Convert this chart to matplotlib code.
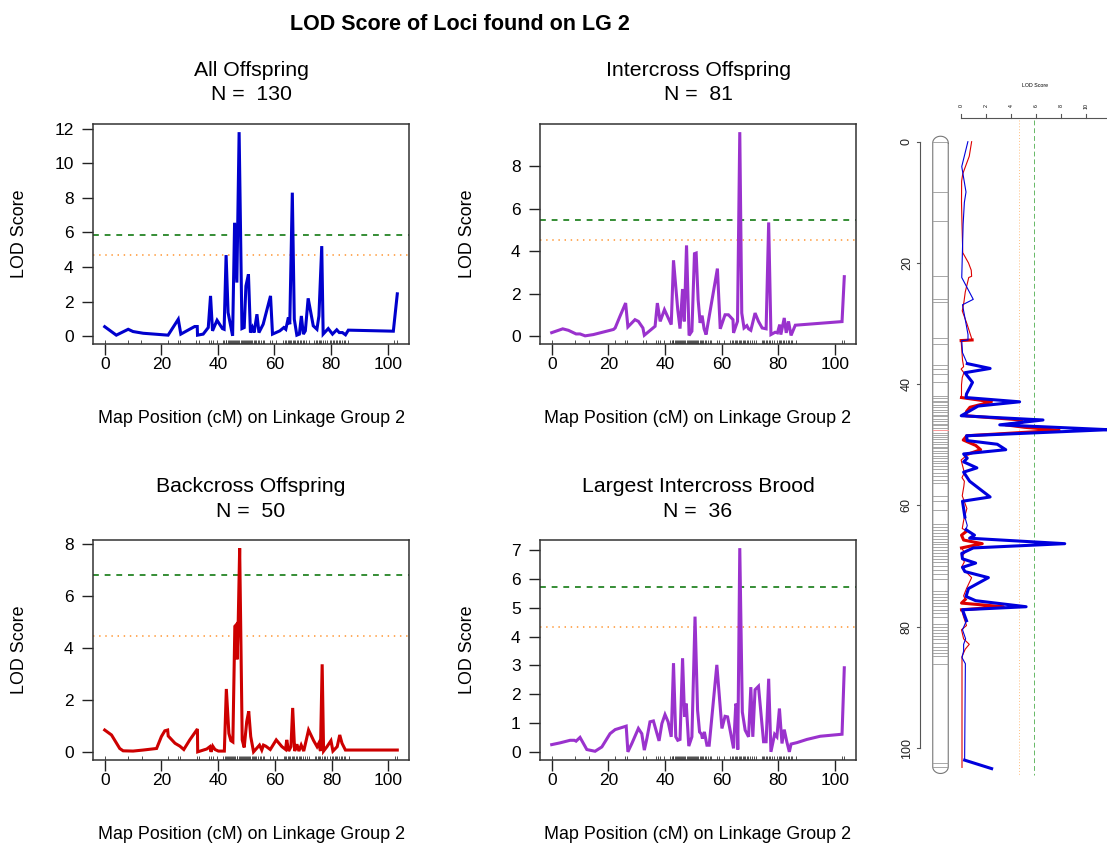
import numpy as np
import matplotlib
matplotlib.use("Agg")
import matplotlib.pyplot as plt

plt.rcParams['font.family'] = ['Liberation Sans', 'DejaVu Sans']

# ---- data: (map position cM, LOD) ----
all_pos = [0, 4.1, 8.3, 10, 13.6, 22.4, 26, 26.9, 30, 31.8, 32.7, 32.8, 34.8, 36.6, 37.4, 38.1,
           39.7, 41.6, 42.2, 42.9, 43.6, 45.2, 45.9, 46.7, 47.5, 48.5, 49.3, 49.9, 50.8, 51.5,
           52.2, 52.8, 53.8, 54.5, 56, 58.6, 59.3, 61.9, 63.3, 64, 64.9, 65.4, 66.3, 67, 67.9,
           68.8, 69.5, 70.2, 70.9, 71.9, 73.7, 75, 75.7, 76.7, 77.2, 79, 80.5, 82, 82.9, 84,
           85.1, 86.1, 102, 103.4]
all_lod = [0.55, 0.06, 0.4, 0.27, 0.17, 0.06, 0.98, 0.12, 0.4, 0.56, 0.56, 0.06, 0.12, 0.5, 2.33, 0.31,
           0.92, 0.44, 0.4, 4.69, 1.37, 0.02, 6.56, 3.1, 11.8, 0.44, 0.5, 2.9, 3.58, 0.21,
           0.5, 0.21, 1.27, 0.21, 0.69, 2.33, 0.12, 0.31, 0.5, 0.4, 1.08, 0.69, 8.3, 0.98, 0.06,
           0.12, 1.17, 0.12, 0.31, 2.19, 0.6, 0.4, 1.17, 5.21, 0.12, 0.44, 0.12, 0.37, 0.21, 0.21,
           0.08, 0.35, 0.29, 2.45]

inter_pos = [0, 3.9, 5.9, 8.6, 10, 11.8, 14.7, 21.8, 22.4, 24.1, 26.1, 26.9, 29.4, 30.6, 32.2, 32.7,
             36.5, 37.3, 38.3, 39.8, 42.2, 43, 44.5, 45.3, 46.2, 46.8, 47.6, 48.5, 49.5, 50.4,
             51, 51.7, 52.4, 53.1, 53.8, 54.5, 58.5, 59.5, 61.2, 62.4, 64, 64.2, 65.6, 66.4,
             67.1, 67.9, 68.9, 69.5, 70.3, 71.8, 73, 74.3, 75.7, 76.6, 77.4, 78.9, 79.7, 80.5,
             80.9, 82.1, 82.8, 83.6, 84.5, 86, 102.5, 103.3]
inter_lod = [0.18, 0.36, 0.29, 0.12, 0.12, 0.03, 0.09, 0.33, 0.4, 0.95, 1.57, 0.45, 0.79, 0.71, 0.4, 0.06,
             0.48, 1.57, 0.71, 1.26, 0.56, 3.58, 1.26, 0.37, 2.23, 0.71, 4.28, 0.05, 0.25, 3.89,
             3.92, 1.72, 0.64, 0.98, 0.36, 0.09, 3.19, 0.36, 1.02, 1.02, 0.79, 0.17, 0.71, 9.6,
             1.1, 0.4, 0.51, 0.36, 0.29, 1.1, 0.71, 0.4, 0.36, 5.36, 0.09, 0.2, 0.17, 0.56,
             0.09, 0.87, 0.17, 0.71, 0.05, 0.53, 0.7, 2.81]

back_pos = [0, 2.4, 5.3, 6.5, 10, 13.6, 18.3, 20, 21.2, 22.2, 22.4, 24.8, 26.5, 27.9, 30, 32.7, 32.8,
            36, 37.1, 37.5, 38.1, 38.9, 40.1, 42.2, 42.9, 43.8, 44.5, 45.2, 45.9, 46.3, 46.7,
            47.1, 47.6, 48.5, 49.2, 50.1, 50.8, 51.5, 52.5, 54.6, 55.4, 56, 56.8, 58.4, 60.5,
            62.5, 63.8, 64.2, 64.9, 65.7, 66.3, 67, 67.8, 68.5, 69.3, 70.2, 71.9, 73.7, 74.9,
            75.5, 76.1, 76.7, 77.2, 78.4, 79.8, 80.5, 82, 82.9, 83.7, 84.9, 103.2]
back_lod = [0.85, 0.66, 0.14, 0.05, 0.04, 0.08, 0.14, 0.6, 0.82, 0.85, 0.62, 0.34, 0.23, 0.1, 0.47, 0.89, 0.01,
            0.12, 0.21, 0.01, 0.23, 0.1, 0.04, 0.04, 2.43, 0.72, 0.44, 0.39, 4.84, 4.89, 3.57,
            5.06, 7.85, 0.47, 0.18, 1.18, 1.57, 0.6, 0.01, 0.27, 0.08, 0.27, 0.23, 0.1, 0.47,
            0.21, 0.1, 0.47, 0.04, 0.21, 1.7, 0.04, 0.3, 0.04, 0.27, 0.04, 0.85, 0.44, 0.21,
            0.34, 0.04, 3.38, 0.04, 0.21, 0.44, 0.04, 0.21, 0.66, 0.34, 0.08, 0.08]

brood_pos = [0, 2.9, 6.5, 8, 8.6, 10, 11.2, 12.4, 15.3, 17.7, 20.6, 22.4, 26.3, 26.9, 28.3, 30.6,
             31.8, 32.7, 33.6, 34.7, 35.9, 37.9, 38.9, 40, 41.1, 42.2, 43, 43.8, 44.5, 45.3,
             46.2, 46.9, 47.5, 48.4, 49.5, 50.6, 51.5, 52.2, 52.9, 53.2, 53.9, 54.8, 55.6, 58.3,
             60.1, 61.2, 62.1, 64.2, 65, 65.4, 65.7, 66.4, 67.3, 68.3, 69.5, 70.3, 71, 71.8,
             73, 74.8, 75.7, 76.6, 77.4, 78.7, 79.5, 80.4, 81.3, 82.1, 83, 83.9, 84.5, 86.6,
             90.1, 94.8, 102.5, 103.3]
brood_lod = [0.26, 0.32, 0.41, 0.41, 0.38, 0.51, 0.3, 0.09, 0.03, 0.18, 0.64, 0.78, 0.9, 0.01, 0.3, 0.82,
             0.64, 0.07, 0.47, 1.05, 1.08, 0.39, 0.99, 1.3, 1.05, 0.53, 3.08, 0.53, 0.41, 0.44,
             3.25, 1.22, 1.68, 0.21, 0.53, 4.69, 1.45, 0.7, 0.62, 0.47, 0.7, 0.24, 0.24, 3.02,
             0.82, 1.24, 1.22, 0.13, 1.68, 1.56, 0.09, 7.06, 1.39, 0.76, 0.53, 2.25, 0.53, 2.16,
             2.28, 0.36, 0.36, 2.54, 0.01, 0.62, 0.53, 1.51, 0.3, 0.78, 0.36, 0.01, 0.28, 0.33,
             0.44, 0.55, 0.62, 2.92]

# marker positions on LG 2 (rug / chromosome bars)
markers = [0, 8.3, 13, 22.2, 25.9, 26.5, 32.4, 33.3, 36.8, 37.5, 38.3, 39.7,
           41.9, 42.3, 42.7, 43.0, 43.4, 43.8, 44.2, 44.6, 45.0, 45.3, 45.7, 46.1, 46.5, 46.8,
           47.2, 47.6, 48.0, 48.4, 48.7, 49.1, 49.5, 49.9, 50.3, 50.6, 51.0, 51.4, 51.8, 52.2,
           52.6, 53.0, 53.5, 54.0, 54.6, 55.2, 55.8, 56.3, 58.4, 59.2, 60.7,
           63.1, 63.6, 64.1, 64.6, 65.0, 65.5, 66.0, 66.4, 66.9, 67.4, 67.9, 68.4, 68.9, 69.4,
           70.0, 70.6, 71.3, 72.1, 74.1, 74.6, 75.1, 75.6, 76.1, 76.6, 77.2, 77.8, 78.4,
           79.6, 80.1, 80.6, 81.1, 81.6, 82.1, 82.7, 83.3, 83.8, 84.4, 84.9, 86.1, 102.4, 103.2]
peak_marker = 47.6

titles = ['All Offspring', 'Intercross Offspring', 'Backcross Offspring', 'Largest Intercross Brood']
n_off = [130, 81, 50, 36]
sig_thr = [5.87, 5.47, 6.8, 5.72]    # green dashed
sug_thr = [4.67, 4.54, 4.45, 4.34]   # orange dotted
colors = ['#0000CD', '#9A32CD', '#CD0000', '#9A32CD']
yticks = [range(0, 13, 2), range(0, 9, 2), range(0, 9, 2), range(0, 8, 1)]

series = [(all_pos, all_lod), (inter_pos, inter_lod), (back_pos, back_lod), (brood_pos, brood_lod)]

W, H = 1107, 846
fig = plt.figure(figsize=(W / 100, H / 100), dpi=100)

# axes boxes in pixels: left, top, right, bottom
boxes = [(93, 124, 409, 344), (540, 124, 856, 344), (93, 540, 409, 760), (540, 540, 856, 760)]

green = '#137A13'
orange = '#FFA54F'

for i, (l, t, r, b) in enumerate(boxes):
    ax = fig.add_axes([l / W, (H - b) / H, (r - l) / W, (b - t) / H])
    pos, lod = series[i]
    ax.plot(pos, lod, color=colors[i], lw=2.2, solid_joinstyle='miter', zorder=3)
    ax.axhline(sig_thr[i], color=green, lw=1.2, ls=(0, (3.5, 3.5)), zorder=2)
    ax.axhline(sug_thr[i], color=orange, lw=1.3, ls=(0, (0.8, 2.6)), zorder=2)
    ax.vlines(markers, 0, 0.018, transform=ax.get_xaxis_transform(), color='#333333', lw=0.6)

    x0, x1 = min(pos), max(pos)
    y0, y1 = min(lod), max(lod)
    ax.set_xlim(x0 - 0.04 * (x1 - x0), x1 + 0.04 * (x1 - x0))
    ax.set_ylim(y0 - 0.04 * (y1 - y0), y1 + 0.04 * (y1 - y0))
    ax.set_xticks(range(0, 101, 20))
    ax.set_yticks(list(yticks[i]))
    ax.tick_params(direction='out', length=8, width=1, labelsize=12.5, color='#222222')
    ax.tick_params(axis='x', pad=1.5)
    ax.tick_params(axis='y', pad=6)
    for s in ax.spines.values():
        s.set_linewidth(1.1)
        s.set_color('#333333')

    hpx = b - t
    wpx = r - l
    ax.text(0.5, 1 + 54 / hpx, titles[i], transform=ax.transAxes, ha='center', va='center', fontsize=15.3)
    ax.text(0.5, 1 + 29 / hpx, f'N =  {n_off[i]}', transform=ax.transAxes, ha='center', va='center', fontsize=15.3)
    ax.text(0.5, -74 / hpx, 'Map Position (cM) on Linkage Group 2', transform=ax.transAxes,
            ha='center', va='center', fontsize=12.9)
    ax.text(-73 / wpx, 0.5, 'LOD Score', transform=ax.transAxes, rotation=90,
            ha='center', va='center', fontsize=12.9)

fig.text(460 / W, 1 - 25 / H, 'LOD Score of Loci found on LG 2', ha='center', va='center',
         fontsize=15.5, fontweight='bold')

# ---- right panel: chromosome with LOD profiles (rotated) ----
ax_r = fig.add_axes([880 / W, 0, (W - 880) / W, 1])
ax_r.axis('off')
lod0_px, lod_px = 961, 12.5        # pixel of LOD 0, pixels per LOD unit
cm0_px, cm_px = 141.7, 6.063        # pixel of 0 cM, pixels per cM
ax_r.set_xlim((880 - lod0_px) / lod_px, (W - lod0_px) / lod_px)
ax_r.set_ylim((H - cm0_px) / cm_px, (0 - cm0_px) / cm_px)

# cM axis
ax_x = -3.28
ax_r.plot([ax_x, ax_x], [0, 100], color='#555555', lw=0.8)
for v in range(0, 101, 20):
    ax_r.plot([ax_x, ax_x - 0.25], [v, v], color='#555555', lw=0.8)
    ax_r.text(ax_x - 1.05, v, str(v), rotation=90, ha='center', va='center', fontsize=9, color='#222222')

# LOD axis on top
top_y = -3.86
ax_r.plot([0, 12], [top_y, top_y], color='#555555', lw=0.8)
for v in range(0, 11, 2):
    ax_r.plot([v, v], [top_y, top_y - 0.75], color='#555555', lw=0.8)
    ax_r.text(v, top_y - 2.05, str(v), rotation=90, ha='center', va='center', fontsize=3.8)
ax_r.text(5.9, top_y - 5.45, 'LOD Score', ha='center', va='center', fontsize=3.8)

# chromosome bar
cl, cr = -2.26, -1.02
cc, hw = (cl + cr) / 2, (cr - cl) / 2
ctop, cbot, dome = 0.2, 103.1, 1.1
th = np.linspace(0, np.pi, 30)
outline_x = np.concatenate([cc + hw * np.cos(th), [cl, cl], cc - hw * np.cos(th), [cr, cr]])
outline_y = np.concatenate([ctop - dome * np.sin(th), [ctop, cbot], cbot + dome * np.sin(th), [cbot, ctop]])
ax_r.plot(outline_x, outline_y, color='#777777', lw=0.8)
for m in markers:
    ax_r.plot([cl, cr], [m, m], color='#999999', lw=0.6)
ax_r.plot([cl, cr], [peak_marker, peak_marker], color='#FF9999', lw=0.7)

# thresholds
ax_r.plot([sug_thr[0], sug_thr[0]], [-3.5, 104.5], color='#FFBF80', lw=0.7, ls=(0, (1, 2)))
ax_r.plot([sig_thr[0], sig_thr[0]], [-3.5, 104.5], color='#66B866', lw=0.7, ls=(0, (5, 3)))


def profile(pos, lod, color, spans):
    pos = np.asarray(pos)
    lod = np.asarray(lod)
    ax_r.plot(lod, pos, color=color, lw=0.8)
    for a, z in spans:
        sel = (pos >= a) & (pos <= z)
        ax_r.plot(lod[sel], pos[sel], color=color, lw=2.2)


profile(back_pos, back_lod, '#DD0000', [(32.6, 33), (42, 52), (64, 67.2), (75.4, 78)])
profile(all_pos, all_lod, '#0000DD', [(36.5, 62), (64, 80), (102, 104)])

fig.savefig('out.png', dpi=100)
